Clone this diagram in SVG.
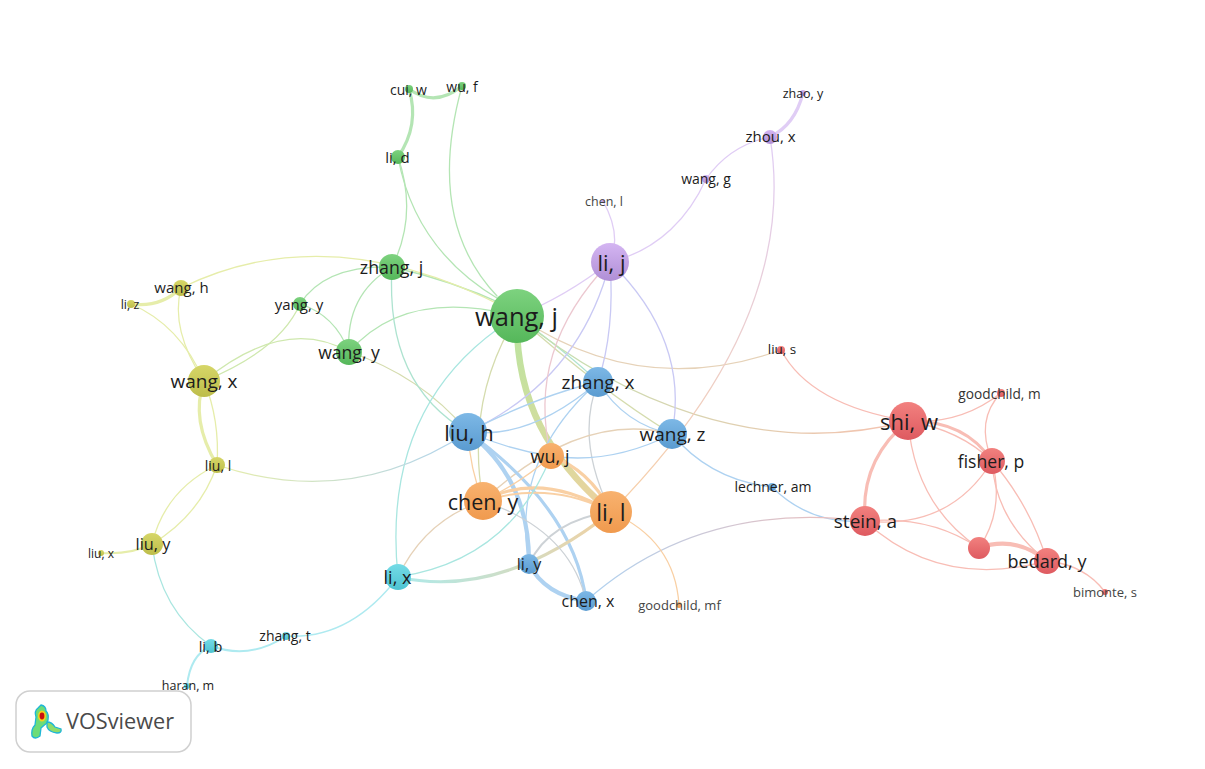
<svg xmlns="http://www.w3.org/2000/svg" width="1205" height="769" viewBox="0 0 1205 769">
<style>
text{font-family:"Open Sans","Noto Sans","Liberation Sans",sans-serif;fill:#1c1c1c;text-anchor:middle;dominant-baseline:central}
#edges path{fill:none;stroke-linecap:round}
.g{stroke:#b4e5b4}.y{stroke:#e6edaa}.gy{stroke:#cfe8ae}.gt{stroke:#aee3d0}.bl{stroke:#aed2f1}.lb{stroke:#c9c9f4}.pu{stroke:#e0cdf5}.pk{stroke:#ecc8d0}
.or{stroke:#f9d0a4}.tn{stroke:#e6d2b8}.ol{stroke:#d5dcae}.r{stroke:#f8bdb5}.c{stroke:#aeeaf0}.gr{stroke:#cdd2d6}.tc{stroke:#a9e6e0}
.w1{stroke-width:1.3}.w2{stroke-width:2}.w3{stroke-width:3.2}.w4{stroke-width:4.2}
.logo-text{font-size:21.7px;fill:#4a4a4a;text-anchor:start}
</style>
<defs>
<linearGradient id="ng" x1="0" y1="0" x2="0" y2="1"><stop offset="0" stop-color="#7dd27f"/><stop offset="1" stop-color="#55b75a"/></linearGradient>
<linearGradient id="nb" x1="0" y1="0" x2="0" y2="1"><stop offset="0" stop-color="#7db8e6"/><stop offset="1" stop-color="#5a9bd0"/></linearGradient>
<linearGradient id="no" x1="0" y1="0" x2="0" y2="1"><stop offset="0" stop-color="#f8b26f"/><stop offset="1" stop-color="#f09a4e"/></linearGradient>
<linearGradient id="nr" x1="0" y1="0" x2="0" y2="1"><stop offset="0" stop-color="#f2817f"/><stop offset="1" stop-color="#de5a60"/></linearGradient>
<linearGradient id="ny" x1="0" y1="0" x2="0" y2="1"><stop offset="0" stop-color="#d6d668"/><stop offset="1" stop-color="#bdbd4a"/></linearGradient>
<linearGradient id="np" x1="0" y1="0" x2="0" y2="1"><stop offset="0" stop-color="#d4b5f2"/><stop offset="1" stop-color="#b08fd6"/></linearGradient>
<linearGradient id="nc" x1="0" y1="0" x2="0" y2="1"><stop offset="0" stop-color="#74dbe6"/><stop offset="1" stop-color="#4dc3d2"/></linearGradient>
<linearGradient id="ec1" gradientUnits="userSpaceOnUse" x1="517" y1="340" x2="611" y2="512"><stop offset="0" stop-color="#bfe3a0"/><stop offset=".55" stop-color="#d5dc9e"/><stop offset="1" stop-color="#eed09e"/></linearGradient>
<linearGradient id="ec2" gradientUnits="userSpaceOnUse" x1="398" y1="577" x2="611" y2="512"><stop offset="0" stop-color="#aeeaea"/><stop offset="1" stop-color="#f2d0a0"/></linearGradient>
<linearGradient id="ec3" gradientUnits="userSpaceOnUse" x1="217" y1="465" x2="468" y2="432"><stop offset="0" stop-color="#e6edaa"/><stop offset="1" stop-color="#aed2f1"/></linearGradient>
<linearGradient id="ec4" gradientUnits="userSpaceOnUse" x1="586" y1="601" x2="865" y2="521"><stop offset="0" stop-color="#aed2f1"/><stop offset="1" stop-color="#f0bcb8"/></linearGradient>
<linearGradient id="ec5" gradientUnits="userSpaceOnUse" x1="517" y1="316" x2="908" y2="421"><stop offset="0" stop-color="#bfe3b0"/><stop offset="1" stop-color="#f6c2b0"/></linearGradient>
<linearGradient id="ec6" gradientUnits="userSpaceOnUse" x1="770" y1="137" x2="611" y2="512"><stop offset="0" stop-color="#e0cdf5"/><stop offset="1" stop-color="#f8cfa4"/></linearGradient>
</defs>
<rect width="1205" height="769" fill="#fff"/>
<g id="edges">
<path class="g w3" d="M409 89Q435 108 462 86"/>
<path class="g w3" d="M409 89Q420 125 398 157"/>
<path class="g w1" d="M462 86Q425 220 497 296"/>
<path class="g w1" d="M398 157Q415 250 500 300"/>
<path class="g w1" d="M398 157Q418 215 392 267"/>
<path class="g w1" d="M392 267Q450 280 505 305"/>
<path class="y w1" d="M181 288Q330 215 510 310"/>
<path class="g w1" d="M392 267Q345 295 349 352"/>
<path class="g w1" d="M392 267Q325 265 300 304"/>
<path class="g w1" d="M300 304Q335 315 349 352"/>
<path class="gy w1" d="M300 304Q280 350 204 381"/>
<path class="gy w1" d="M204 381Q285 315 349 352"/>
<path class="g w1" d="M349 352Q405 287 517 316"/>
<path class="ol w1" d="M349 352Q420 375 468 432"/>
<path class="gt w1" d="M392 267Q385 385 468 432"/>
<path class="tc w1" d="M517 316Q380 400 398 577"/>
<path class="ol w1" d="M517 316Q465 400 483 501"/>
<path style="stroke:url(#ec1)" stroke-width="6.5" d="M517 316C515 400 550 460 611 512"/>
<path class="gt w1" d="M517 316Q570 355 598 382"/>
<path class="ol w1" d="M517 316Q600 390 672 434"/>
<path style="stroke:url(#ec5)" class="w1" d="M517 316C620 400 760 460 908 421"/>
<path class="tn w1" d="M517 316Q640 400 781 350"/>
<path class="pu w1" d="M517 316Q565 297 610 262"/>
<path class="pu w1" d="M610 262Q622 235 603 201"/>
<path class="pu w1" d="M610 262C660 250 690 215 706 179"/>
<path class="pu w1" d="M706 179Q730 145 770 137"/>
<path class="pu w3" d="M770 137Q795 125 803 93"/>
<path style="stroke:url(#ec6)" class="w1" d="M770 137Q800 320 611 512"/>
<path class="lb w1" d="M610 262Q615 330 598 382"/>
<path class="lb w1" d="M610 262Q690 340 672 434"/>
<path class="lb w1" d="M610 262Q580 380 468 432"/>
<path class="pk w1" d="M610 262Q525 350 551 456"/>
<path class="bl w1" d="M598 382Q510 460 529 564"/>
<path class="bl w1" d="M598 382Q530 440 468 432"/>
<path class="bl w1" d="M598 382Q540 395 468 432"/>
<path class="bl w1" d="M598 382Q625 425 672 434"/>
<path class="gr w1" d="M598 382Q575 440 611 512"/>
<path class="bl w1" d="M672 434Q610 465 551 456"/>
<path class="tn w1" d="M672 434Q580 410 483 501"/>
<path class="bl w1" d="M672 434Q710 480 772 487"/>
<path class="bl w1" d="M772 487Q810 525 865 521"/>
<path class="bl w1" d="M468 432Q510 450 551 456"/>
<path class="or w1" d="M468 432Q470 470 483 501"/>
<path class="bl w4" d="M468 432Q530 480 529 564"/>
<path class="bl w3" d="M468 432Q575 510 586 601"/>
<path class="bl w4" d="M529 564Q545 595 586 601"/>
<path style="stroke:url(#ec3)" class="w1" d="M468 432Q350 510 217 465"/>
<path class="or w3" d="M483 501Q540 470 611 512"/>
<path class="or w2" d="M483 501Q550 480 611 512"/>
<path class="or w1" d="M483 501Q525 480 551 456"/>
<path class="or w3" d="M551 456Q590 470 611 512"/>
<path class="tn w1" d="M398 577Q425 520 483 501"/>
<path class="tc w1" d="M398 577Q510 560 551 456"/>
<path style="stroke:url(#ec2)" class="w3" d="M398 577Q500 600 611 512"/>
<path class="gr w2" d="M529 564Q550 520 611 512"/>
<path class="gr w1" d="M483 501Q570 530 586 601"/>
<path style="stroke:url(#ec4)" class="w1" d="M586 601Q700 500 865 521"/>
<path class="or w1" d="M611 512Q675 540 679 605"/>
<path class="c w1" d="M398 577Q350 640 286 636"/>
<path class="c w2" d="M286 636Q250 660 211 646"/>
<path class="c w2" d="M211 646Q190 655 187 686"/>
<path class="tc w1" d="M211 646Q160 610 152 544"/>
<path class="y w2" d="M152 544Q130 555 101 553"/>
<path class="y w1" d="M152 544Q165 490 217 465"/>
<path class="y w1" d="M152 544Q200 515 217 465"/>
<path class="y w3" d="M204 381Q190 420 217 465"/>
<path class="y w1" d="M204 381Q220 420 217 465"/>
<path class="y w1" d="M204 381Q170 330 181 288"/>
<path class="y w1" d="M204 381Q180 325 131 304"/>
<path class="y w3" d="M131 304Q160 308 181 288"/>
<path class="r w1" d="M781 350Q810 405 908 421"/>
<path class="r w1" d="M1001 393Q960 425 908 421"/>
<path class="r w1" d="M1001 393Q975 420 992 461"/>
<path class="r w1" d="M908 421Q960 430 992 461"/>
<path class="r w3" d="M908 421Q965 420 992 461"/>
<path class="r w1" d="M992 461Q1030 505 1047 561"/>
<path class="r w3" d="M908 421Q860 460 865 521"/>
<path class="r w1" d="M908 421Q915 505 979 548"/>
<path class="r w1" d="M992 461Q1005 510 979 548"/>
<path class="r w1" d="M992 461Q995 520 1047 561"/>
<path class="r w1" d="M992 461Q950 530 865 521"/>
<path class="r w1" d="M865 521Q930 515 979 548"/>
<path class="r w1" d="M865 521Q940 590 1047 561"/>
<path class="r w4" d="M979 548Q1015 535 1047 561"/>
<path class="r w1" d="M1047 561Q1085 565 1105 592"/>
</g>
<g id="n-wang-j"><circle cx="517" cy="316" r="27" fill="url(#ng)"/><text x="516.5" y="316" font-size="25.5">wang, j</text></g>
<g id="n-li-j"><circle cx="610" cy="262" r="19" fill="url(#np)"/><text x="611.5" y="262" font-size="22">li, j</text></g>
<g id="n-zhang-j"><circle cx="392" cy="267" r="13" fill="url(#ng)"/><text x="391.5" y="267" font-size="17.8">zhang, j</text></g>
<g id="n-wang-y"><circle cx="349" cy="352" r="13" fill="url(#ng)"/><text x="349" y="352" font-size="17.6">wang, y</text></g>
<g id="n-yang-y"><circle cx="300" cy="304" r="7" fill="url(#ng)"/><text x="299" y="304" font-size="15">yang, y</text></g>
<g id="n-cui-w"><circle cx="409" cy="89" r="4" fill="url(#ng)"/><text x="408.5" y="89" font-size="14">cui, w</text></g>
<g id="n-wu-f"><circle cx="462" cy="86" r="4" fill="url(#ng)"/><text x="462" y="86" font-size="14">wu, f</text></g>
<g id="n-li-d"><circle cx="398" cy="157" r="7" fill="url(#ng)"/><text x="397.5" y="157" font-size="15">li, d</text></g>
<g id="n-wang-h"><circle cx="181" cy="288" r="8" fill="url(#ny)"/><text x="181.5" y="287" font-size="15">wang, h</text></g>
<g id="n-li-z"><circle cx="131" cy="304" r="4" fill="url(#ny)"/><text x="130" y="304" font-size="12.5">li, z</text></g>
<g id="n-wang-x"><circle cx="204" cy="381" r="16" fill="url(#ny)"/><text x="204" y="381" font-size="19">wang, x</text></g>
<g id="n-liu-l"><circle cx="217" cy="465" r="8" fill="url(#ny)"/><text x="218" y="465" font-size="14">liu, l</text></g>
<g id="n-liu-y"><circle cx="152" cy="544" r="11" fill="url(#ny)"/><text x="153" y="544" font-size="16.3">liu, y</text></g>
<g id="n-liu-x"><circle cx="101" cy="553" r="3" fill="url(#ny)"/><text x="101" y="553" font-size="12">liu, x</text></g>
<g id="n-li-b"><circle cx="211" cy="646" r="7" fill="url(#nc)"/><text x="210.5" y="646" font-size="14.5">li, b</text></g>
<g id="n-zhang-t"><circle cx="286" cy="636" r="4" fill="url(#nc)"/><text x="285" y="635" font-size="14">zhang, t</text></g>
<g id="n-haran-m"><circle cx="187" cy="686" r="3" fill="url(#nc)"/><text x="188" y="685" font-size="12.5">haran, m</text></g>
<g id="n-li-x"><circle cx="398" cy="577" r="13" fill="url(#nc)"/><text x="397.5" y="577" font-size="18">li, x</text></g>
<g id="n-liu-h"><circle cx="468" cy="432" r="19" fill="url(#nb)"/><text x="469" y="432" font-size="22">liu, h</text></g>
<g id="n-chen-y"><circle cx="483" cy="501" r="19" fill="url(#no)"/><text x="483" y="501" font-size="21.5">chen, y</text></g>
<g id="n-wu-j"><circle cx="551" cy="456" r="13" fill="url(#no)"/><text x="550" y="456" font-size="18">wu, j</text></g>
<g id="n-li-l"><circle cx="611" cy="512" r="21" fill="url(#no)"/><text x="611" y="512" font-size="23">li, l</text></g>
<g id="n-zhang-x"><circle cx="598" cy="382" r="15" fill="url(#nb)"/><text x="598" y="382" font-size="19">zhang, x</text></g>
<g id="n-wang-z"><circle cx="672" cy="434" r="15" fill="url(#nb)"/><text x="672.5" y="434" font-size="19">wang, z</text></g>
<g id="n-li-y"><circle cx="529" cy="564" r="10" fill="url(#nb)"/><text x="529" y="564" font-size="16">li, y</text></g>
<g id="n-chen-x"><circle cx="586" cy="601" r="10" fill="url(#nb)"/><text x="588" y="601" font-size="16">chen, x</text></g>
<g id="n-lechner-am"><circle cx="772" cy="487" r="4" fill="url(#nb)"/><text x="773" y="486" font-size="14">lechner, am</text></g>
<g id="n-goodchild-mf"><circle cx="679" cy="605" r="3" fill="url(#no)"/><text x="679.5" y="605" font-size="13" style="fill:#444">goodchild, mf</text></g>
<g id="n-liu-s"><circle cx="781" cy="350" r="4" fill="url(#nr)"/><text x="782" y="349" font-size="13.5">liu, s</text></g>
<g id="n-shi-w"><circle cx="908" cy="421" r="19" fill="url(#nr)"/><text x="909" y="421" font-size="22">shi, w</text></g>
<g id="n-goodchild-m"><circle cx="1001" cy="393" r="4" fill="url(#nr)"/><text x="999.5" y="393" font-size="13.7" style="fill:#333">goodchild, m</text></g>
<g id="n-fisher-p"><circle cx="992" cy="461" r="13" fill="url(#nr)"/><text x="991" y="461" font-size="17.6">fisher, p</text></g>
<g id="n-stein-a"><circle cx="865" cy="521" r="15" fill="url(#nr)"/><text x="865.5" y="521" font-size="19">stein, a</text></g>
<g id="n-unnamed"><circle cx="979" cy="548" r="11" fill="url(#nr)"/></g>
<g id="n-bedard-y"><circle cx="1047" cy="561" r="13" fill="url(#nr)"/><text x="1047" y="561" font-size="18">bedard, y</text></g>
<g id="n-bimonte-s"><circle cx="1105" cy="592" r="3" fill="url(#nr)"/><text x="1105" y="592" font-size="13" style="fill:#444">bimonte, s</text></g>
<g id="n-zhou-x"><circle cx="770" cy="137" r="7" fill="url(#np)"/><text x="770.5" y="136" font-size="15">zhou, x</text></g>
<g id="n-zhao-y"><circle cx="803" cy="93" r="3" fill="url(#np)"/><text x="803" y="93" font-size="12.5">zhao, y</text></g>
<g id="n-wang-g"><circle cx="706" cy="179" r="4" fill="url(#np)"/><text x="706" y="178" font-size="14">wang, g</text></g>
<g id="n-chen-l"><circle cx="603" cy="201" r="2" fill="url(#np)"/><text x="604" y="201" font-size="12.5" style="fill:#444">chen, l</text></g>
<g id="logo">
<rect x="16" y="691" width="175" height="61" rx="14" fill="#fff" stroke="#d0d0d0" stroke-width="1.5"/>
<path d="M41 705Q46 706 46 711Q49 714 48 720L47 723Q43 726 41 728L40 736Q35 740 32 736Q31 729 35 725L36 717Q34 711 38 708Z" fill="#6ddc78" stroke="#1fb6d6" stroke-width="1.3"/>
<path d="M47 722Q52 722 55 727L61 729Q62 733 57 733Q49 732 47 727Z" fill="#8fdc6a" stroke="#1fb6d6" stroke-width="1.3"/>
<ellipse cx="42" cy="716" rx="4" ry="5.5" fill="#f3d21e"/>
<ellipse cx="42" cy="716" rx="2.4" ry="3.4" fill="#c81010"/>
<text class="logo-text" x="66" y="720">VOSviewer</text>
</g>
</svg>
